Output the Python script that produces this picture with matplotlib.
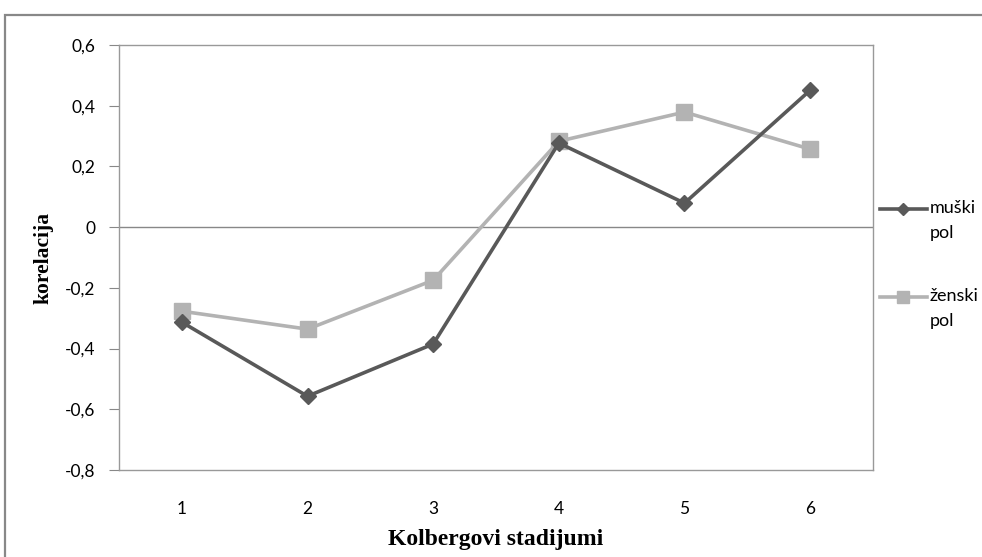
import matplotlib
matplotlib.use("Agg")
import matplotlib.pyplot as plt
from matplotlib.patches import Rectangle
from matplotlib.lines import Line2D

stages = [1, 2, 3, 4, 5, 6]
muski = [-0.313, -0.557, -0.385, 0.277, 0.079, 0.451]
zenski = [-0.277, -0.336, -0.175, 0.283, 0.379, 0.257]
yticks = [0.6, 0.4, 0.2, 0, -0.2, -0.4, -0.6, -0.8]
ytick_labels = ["0,6", "0,4", "0,2", "0", "-0,2", "-0,4", "-0,6", "-0,8"]
labels = ["muški\npol", "ženski\npol"]

W, H = 982, 557
fig = plt.figure(figsize=(W / 100, H / 100), dpi=100)
fig.patches.append(Rectangle((5 / W, -0.1), 1.2, 1 - 15 / H + 0.1, transform=fig.transFigure,
                             fill=False, edgecolor="#888888", linewidth=1.6))

ax = fig.add_axes([119 / W, 1 - 470 / H, (873 - 119) / W, (470 - 45) / H])
tick_font = "Lato"
c_m = "#595959"
c_z = "#b3b3b3"

ax.plot(stages, zenski, color=c_z, lw=2.6, marker="s", ms=11, mec=c_z, mfc=c_z, zorder=3)
ax.plot(stages, muski, color=c_m, lw=2.6, marker="D", ms=8.5, mec=c_m, mfc=c_m, zorder=4)

ax.set_xlim(0.5, 6.5)
ax.set_ylim(-0.8, 0.6)
ax.axhline(0, color="#888888", lw=1.0, zorder=1)
ax.set_yticks(yticks)
ax.set_yticklabels(ytick_labels, fontsize=12.5, family=tick_font)
ax.set_xticks(stages)
ax.set_xticklabels([str(s) for s in stages], fontsize=12.5, family=tick_font)
ax.tick_params(axis="y", length=7, color="#888888", pad=10)
ax.tick_params(axis="x", length=0, pad=22)
for s in ax.spines.values():
    s.set_color("#999999")
    s.set_linewidth(1.0)

ax.set_ylabel("korelacija", fontsize=15.5, fontweight="bold", family="Liberation Serif", labelpad=8)
ax.set_xlabel("Kolbergovi stadijumi", fontsize=17, fontweight="bold", family="Liberation Serif", labelpad=9)

# legend drawn in figure pixel coordinates
def fx(px):
    return px / W

def fy(py):
    return 1 - py / H

entries = [(labels[0], c_m, "D", 6, 209), (labels[1], c_z, "s", 9, 297)]
for text, col, mk, ms, ypix in entries:
    fig.add_artist(Line2D([fx(880), fx(927)], [fy(ypix), fy(ypix)], color=col, lw=2.6,
                          transform=fig.transFigure))
    fig.add_artist(Line2D([fx(903)], [fy(ypix)], color=col, marker=mk, ms=ms, mec=col, mfc=col,
                          lw=0, transform=fig.transFigure))
    fig.text(fx(930), fy(ypix - 9), text, family=tick_font, fontsize=13, va="top", ha="left",
             linespacing=1.7)

fig.savefig("out.png", dpi=100)
